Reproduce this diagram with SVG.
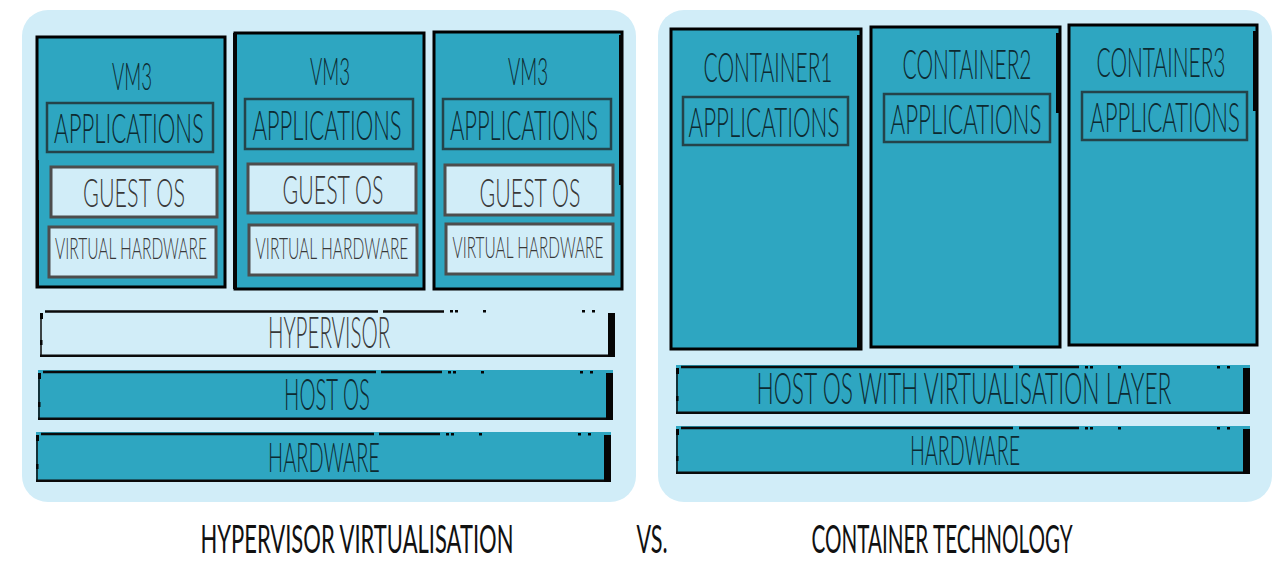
<svg xmlns="http://www.w3.org/2000/svg" width="1277" height="562" viewBox="0 0 1277 562">
<style>
.panel{fill:#d1edf8}
.vm{fill:#2ea6c1;stroke:#000;stroke-width:3}
.app{fill:#2ea6c1;stroke:#24434a;stroke-width:2.5}
.lt{fill:#d1edf8;stroke:#4d4d4d;stroke-width:3}
.tealbar{fill:#2ea6c1}
.litebar{fill:#d1edf8}
.ln{stroke:#0a0a0a;stroke-width:2.5;fill:none}
.thin{stroke:#0a0a0a;stroke-width:1.5;fill:none}
.blk{fill:#050505}
text{font-family:Lato,"Liberation Sans Narrow","DejaVu Sans Condensed",sans-serif;font-weight:300;text-anchor:middle}
.td{fill:#0d2a31}
.tg{fill:#383838}
.tb{fill:#111;font-weight:400}
</style>
<rect class="panel" x="22" y="10" width="614" height="492" rx="26"/>
<rect class="panel" x="658" y="10" width="614" height="492" rx="26"/>

<g id="vm1">
<rect class="vm" x="37" y="37" width="188" height="250"/>
<rect class="blk" x="36" y="160" width="3" height="127"/>
<text class="td" transform="translate(132 90) scale(0.52 1)" font-size="38" textLength="77" lengthAdjust="spacingAndGlyphs">VM3</text>
<rect class="app" x="47" y="103" width="166" height="49"/>
<text class="td" transform="translate(129 143) scale(0.52 1)" font-size="41" textLength="288" lengthAdjust="spacingAndGlyphs">APPLICATIONS</text>
<rect class="lt" x="51" y="167" width="166" height="50"/>
<text class="tg" transform="translate(134 207) scale(0.52 1)" font-size="40" textLength="196" lengthAdjust="spacingAndGlyphs">GUEST OS</text>
<rect class="lt" x="49" y="227" width="167" height="50"/>
<text class="tg" transform="translate(131 259) scale(0.52 1)" font-size="29" textLength="292" lengthAdjust="spacingAndGlyphs">VIRTUAL HARDWARE</text>
</g>

<g id="vm2">
<rect class="vm" x="235" y="33" width="189" height="256"/>
<rect class="blk" x="233" y="33" width="4" height="256"/>
<text class="td" transform="translate(330 85) scale(0.52 1)" font-size="38" textLength="77" lengthAdjust="spacingAndGlyphs">VM3</text>
<rect class="app" x="245" y="99" width="168" height="50"/>
<text class="td" transform="translate(327 140) scale(0.52 1)" font-size="41" textLength="287" lengthAdjust="spacingAndGlyphs">APPLICATIONS</text>
<rect class="lt" x="248" y="164" width="168" height="49"/>
<text class="tg" transform="translate(333 204) scale(0.52 1)" font-size="40" textLength="194" lengthAdjust="spacingAndGlyphs">GUEST OS</text>
<rect class="lt" x="249" y="225" width="168" height="50"/>
<text class="tg" transform="translate(332 259) scale(0.52 1)" font-size="29" textLength="294" lengthAdjust="spacingAndGlyphs">VIRTUAL HARDWARE</text>
</g>

<g id="vm3">
<rect class="vm" x="434" y="32" width="188" height="257"/>
<rect class="blk" x="619" y="35" width="4" height="150"/>
<text class="td" transform="translate(528 85) scale(0.52 1)" font-size="38" textLength="77" lengthAdjust="spacingAndGlyphs">VM3</text>
<rect class="app" x="443" y="99" width="168" height="50"/>
<text class="td" transform="translate(524 140) scale(0.52 1)" font-size="41" textLength="285" lengthAdjust="spacingAndGlyphs">APPLICATIONS</text>
<rect class="lt" x="445" y="165" width="168" height="50"/>
<text class="tg" transform="translate(530 207) scale(0.52 1)" font-size="40" textLength="194" lengthAdjust="spacingAndGlyphs">GUEST OS</text>
<rect class="lt" x="446" y="224" width="167" height="50"/>
<text class="tg" transform="translate(528 258) scale(0.52 1)" font-size="29" textLength="290" lengthAdjust="spacingAndGlyphs">VIRTUAL HARDWARE</text>
</g>

<g id="hypervisor">
<rect class="litebar" x="40" y="310" width="575" height="47"/>
<path class="ln" d="M45 311.5H378M383 311.5H444M40 355.8H615"/>
<path class="thin" d="M41 314V357"/>
<rect class="blk" x="40" y="313" width="3" height="6"/>
<rect class="blk" x="40" y="340" width="2.5" height="5"/>
<rect class="blk" x="608" y="313" width="7" height="44"/>
<rect class="blk" x="450" y="310" width="3" height="2.5"/><rect class="blk" x="455" y="310" width="3" height="2.5"/><rect class="blk" x="483" y="310" width="3" height="2.5"/><rect class="blk" x="582" y="310" width="3" height="2.5"/><rect class="blk" x="592" y="310" width="3" height="2.5"/>
<text class="tg" transform="translate(329 348) scale(0.52 1)" font-size="43" textLength="235" lengthAdjust="spacingAndGlyphs">HYPERVISOR</text>
</g>

<g id="hostos">
<rect class="tealbar" x="38" y="370" width="575" height="50"/>
<path class="ln" d="M43 372H376M381 372H442M38 418.8H613"/>
<path class="thin" d="M39 374V420"/>
<rect class="blk" x="38" y="373" width="3" height="6"/>
<rect class="blk" x="38" y="402" width="2.5" height="5"/>
<rect class="blk" x="606" y="373" width="7" height="47"/>
<rect class="blk" x="448" y="371" width="3" height="2.5"/><rect class="blk" x="453" y="371" width="3" height="2.5"/><rect class="blk" x="481" y="371" width="3" height="2.5"/><rect class="blk" x="580" y="371" width="3" height="2.5"/><rect class="blk" x="590" y="371" width="3" height="2.5"/>
<text class="td" transform="translate(327 410) scale(0.52 1)" font-size="44" textLength="165" lengthAdjust="spacingAndGlyphs">HOST OS</text>
</g>

<g id="hardware-left">
<rect class="tealbar" x="36" y="432" width="575" height="50"/>
<path class="ln" d="M41 434H374M379 434H440M36 480.8H611"/>
<path class="thin" d="M37 436V482"/>
<rect class="blk" x="36" y="435" width="3" height="6"/>
<rect class="blk" x="36" y="464" width="2.5" height="5"/>
<rect class="blk" x="604" y="435" width="7" height="47"/>
<rect class="blk" x="446" y="433" width="3" height="2.5"/><rect class="blk" x="451" y="433" width="3" height="2.5"/><rect class="blk" x="479" y="433" width="3" height="2.5"/><rect class="blk" x="578" y="433" width="3" height="2.5"/><rect class="blk" x="588" y="433" width="3" height="2.5"/>
<text class="td" transform="translate(324 472) scale(0.52 1)" font-size="42" textLength="215" lengthAdjust="spacingAndGlyphs">HARDWARE</text>
</g>

<g id="container1">
<rect class="vm" x="671" y="29" width="190" height="320"/>
<rect class="blk" x="857" y="35" width="5" height="314"/>
<text class="td" transform="translate(768 82) scale(0.52 1)" font-size="42" textLength="248" lengthAdjust="spacingAndGlyphs">CONTAINER1</text>
<rect class="app" x="683" y="97" width="165" height="48"/>
<text class="td" transform="translate(764 137) scale(0.52 1)" font-size="41" textLength="290" lengthAdjust="spacingAndGlyphs">APPLICATIONS</text>
</g>

<g id="container2">
<rect class="vm" x="871" y="27" width="189" height="320"/>
<rect class="blk" x="1056" y="33" width="4" height="80"/>
<text class="td" transform="translate(967 79) scale(0.52 1)" font-size="42" textLength="248" lengthAdjust="spacingAndGlyphs">CONTAINER2</text>
<rect class="app" x="884" y="94" width="166" height="48"/>
<text class="td" transform="translate(966 134) scale(0.52 1)" font-size="41" textLength="290" lengthAdjust="spacingAndGlyphs">APPLICATIONS</text>
</g>

<g id="container3">
<rect class="vm" x="1069" y="25" width="188" height="320"/>
<rect class="blk" x="1253" y="31" width="4" height="80"/>
<text class="td" transform="translate(1161 77) scale(0.52 1)" font-size="42" textLength="248" lengthAdjust="spacingAndGlyphs">CONTAINER3</text>
<rect class="app" x="1082" y="92" width="165" height="48"/>
<text class="td" transform="translate(1165 132) scale(0.52 1)" font-size="41" textLength="288" lengthAdjust="spacingAndGlyphs">APPLICATIONS</text>
</g>

<g id="hostos-virt">
<rect class="tealbar" x="676" y="365" width="574" height="49"/>
<path class="ln" d="M681 367H1013M1019 367H1079M676 412.8H1250"/>
<path class="thin" d="M677 369V414"/>
<rect class="blk" x="676" y="368" width="3" height="6"/>
<rect class="blk" x="676" y="396" width="2.5" height="5"/>
<rect class="blk" x="1243" y="368" width="7" height="46"/>
<rect class="blk" x="1085" y="366" width="3" height="2.5"/><rect class="blk" x="1090" y="366" width="3" height="2.5"/><rect class="blk" x="1118" y="366" width="3" height="2.5"/><rect class="blk" x="1217" y="366" width="3" height="2.5"/><rect class="blk" x="1227" y="366" width="3" height="2.5"/>
<text class="td" transform="translate(964 404) scale(0.52 1)" font-size="44" textLength="798" lengthAdjust="spacingAndGlyphs">HOST OS WITH VIRTUALISATION LAYER</text>
</g>

<g id="hardware-right">
<rect class="tealbar" x="676" y="426" width="574" height="48"/>
<path class="ln" d="M681 428H1013M1019 428H1079M676 472.8H1250"/>
<path class="thin" d="M677 430V474"/>
<rect class="blk" x="676" y="429" width="3" height="6"/>
<rect class="blk" x="676" y="456" width="2.5" height="5"/>
<rect class="blk" x="1243" y="429" width="7" height="45"/>
<rect class="blk" x="1085" y="427" width="3" height="2.5"/><rect class="blk" x="1090" y="427" width="3" height="2.5"/><rect class="blk" x="1118" y="427" width="3" height="2.5"/><rect class="blk" x="1217" y="427" width="3" height="2.5"/><rect class="blk" x="1227" y="427" width="3" height="2.5"/>
<text class="td" transform="translate(965 465) scale(0.52 1)" font-size="42" textLength="212" lengthAdjust="spacingAndGlyphs">HARDWARE</text>
</g>

<g id="captions">
<text class="tb" transform="translate(357 553) scale(0.52 1)" font-size="38" textLength="602" lengthAdjust="spacingAndGlyphs">HYPERVISOR VIRTUALISATION</text>
<text class="tb" transform="translate(652 553) scale(0.52 1)" font-size="38" textLength="60" lengthAdjust="spacingAndGlyphs">VS.</text>
<text class="tb" transform="translate(942 553) scale(0.52 1)" font-size="38" textLength="502" lengthAdjust="spacingAndGlyphs">CONTAINER TECHNOLOGY</text>
</g>
</svg>
